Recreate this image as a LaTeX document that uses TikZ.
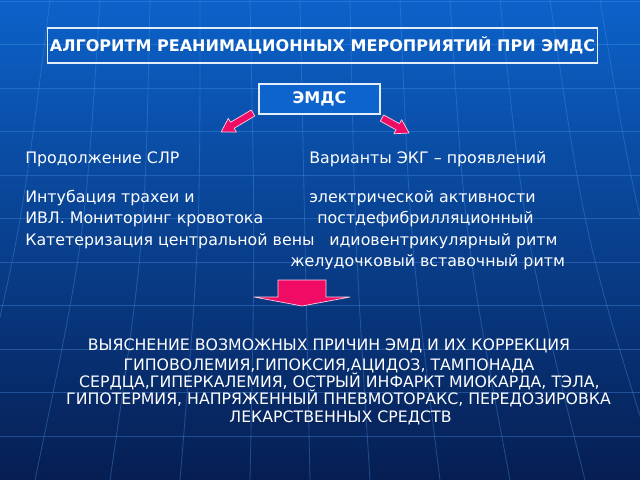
\documentclass[tikz,border=0pt]{standalone}
\usepackage{fontspec}
\setmainfont{DejaVu Sans}
\usetikzlibrary{positioning}

\definecolor{bgtop}{RGB}{12,98,202}
\definecolor{bgmid}{RGB}{9,66,158}
\definecolor{bgbot}{RGB}{6,30,82}
\definecolor{gridblue}{RGB}{70,140,225}
\definecolor{boxblue}{RGB}{12,100,204}
\definecolor{hotpink}{RGB}{240,12,100}

\tikzset{
  gridline/.style={gridblue, line width=0.6pt, opacity=0.4},
  framebox/.style={draw=white!85!gridblue, line width=0.8pt, inner sep=0pt},
  pinkarrow/.style={fill=hotpink, draw=white!80!hotpink, line width=0.5pt, line join=round},
  lefttxt/.style={anchor=base west, inner sep=0pt, text=white, font=\fontsize{11.25}{13}\selectfont},
  caps/.style={anchor=base, inner sep=0pt, text=white, font=\fontsize{11.2}{13}\selectfont}
}

\begin{document}
\begin{tikzpicture}[x=0.025cm, y=-0.025cm]

        \useasboundingbox (0,0) rectangle (640,480);
        \shade[top color=bgtop, middle color=bgmid, bottom color=bgbot] (0,0) rectangle (640,480);

        % faint globe grid
        \draw[gridline] (0,1)--(640,1) (0,44.5)--(640,44.5) (0,88)--(640,88) (0,131.5)--(640,131.5)
                        (0,175)--(640,175) (0,218.5)--(640,218.5) (0,262)--(640,262) (0,305.5)--(640,305.5)
                        (0,349)--(640,349) (0,392.5)--(640,392.5) (0,436)--(640,436);
        \draw[gridline] (50,0) .. controls (20,240) .. (-40,480)
                        (100,0) .. controls (85,240) .. (35,480)
                        (150,0) .. controls (145,240) .. (110,480)
                        (200,0) .. controls (200,240) .. (180,480)
                        (250,0) .. controls (255,240) .. (250,480)
                        (300,0) .. controls (305,240) .. (310,480)
                        (350,0) .. controls (355,240) .. (370,480)
                        (400,0) .. controls (410,240) .. (440,480)
                        (450,0) .. controls (465,240) .. (510,480)
                        (500,0) .. controls (525,240) .. (585,480)
                        (550,0) .. controls (585,240) .. (660,480)
                        (600,0) .. controls (640,240) .. (730,480);

        % boxes
        \node[framebox, minimum width=13.75cm, minimum height=0.875cm, text=white,
              font=\bfseries\fontsize{11.4}{13}\selectfont] (ttl) at (322.5,45.5)
              {АЛГОРИТМ РЕАНИМАЦИОННЫХ МЕРОПРИЯТИЙ ПРИ ЭМДС};
        \node[framebox, fill=boxblue, minimum width=3.025cm, minimum height=0.75cm, text=white,
              font=\bfseries\fontsize{11.4}{13}\selectfont] (emds) at (319.5,99) {ЭМДС};

        % pink arrows
        \begin{scope}[shift={(253,113)}, rotate=210.7]
          \draw[pinkarrow] (0,-3.5) -- (24,-3.5) -- (24,-8) -- (37,0) -- (24,8) -- (24,3.5) -- (0,3.5) -- cycle;
        \end{scope}
        \begin{scope}[shift={(382,118)}, rotate=-29]
          \draw[pinkarrow] (0,-3.5) -- (18,-3.5) -- (18,-8) -- (31,0) -- (18,8) -- (18,3.5) -- (0,3.5) -- cycle;
        \end{scope}
        \draw[pinkarrow] (278,280) -- (326,280) -- (326,297) -- (350,297) -- (302,306)
                         -- (254,297) -- (278,297) -- cycle;

        % left column
        \node[lefttxt] (cpr) at (25,163) {Продолжение СЛР};
        \node[lefttxt] (intub) at (25,202) {Интубация трахеи и};
        \node[lefttxt] (ivl) at (25,223) {ИВЛ. Мониторинг кровотока};
        \node[lefttxt] (cath) at (25,245) {Катетеризация центральной вены};

        % right column
        \node[lefttxt] (ecg) at (309,163) {Варианты ЭКГ – проявлений};
        \node[lefttxt] (ecgact) at (309,202) {электрической активности};
        \node[lefttxt] (postdef) at (317,223) {постдефибрилляционный};
        \node[lefttxt] (idio) at (329,245) {идиовентрикулярный ритм};
        \node[lefttxt] (junct) at (290,266) {желудочковый вставочный ритм};

        % causes
        \node[caps] (cause) at (329,350) {ВЫЯСНЕНИЕ ВОЗМОЖНЫХ ПРИЧИН ЭМД И ИХ КОРРЕКЦИЯ};
        \node[caps] (hypo) at (329,370) {ГИПОВОЛЕМИЯ,ГИПОКСИЯ,АЦИДОЗ, ТАМПОНАДА};
        \node[caps] (heart) at (339.5,387) {СЕРДЦА,ГИПЕРКАЛЕМИЯ, ОСТРЫЙ ИНФАРКТ МИОКАРДА, ТЭЛА,};
        \node[caps] (therm) at (338.5,404) {ГИПОТЕРМИЯ, НАПРЯЖЕННЫЙ ПНЕВМОТОРАКС, ПЕРЕДОЗИРОВКА};
        \node[caps] (drugs) at (340.5,422) {ЛЕКАРСТВЕННЫХ СРЕДСТВ};

    \end{tikzpicture}
\end{document}
